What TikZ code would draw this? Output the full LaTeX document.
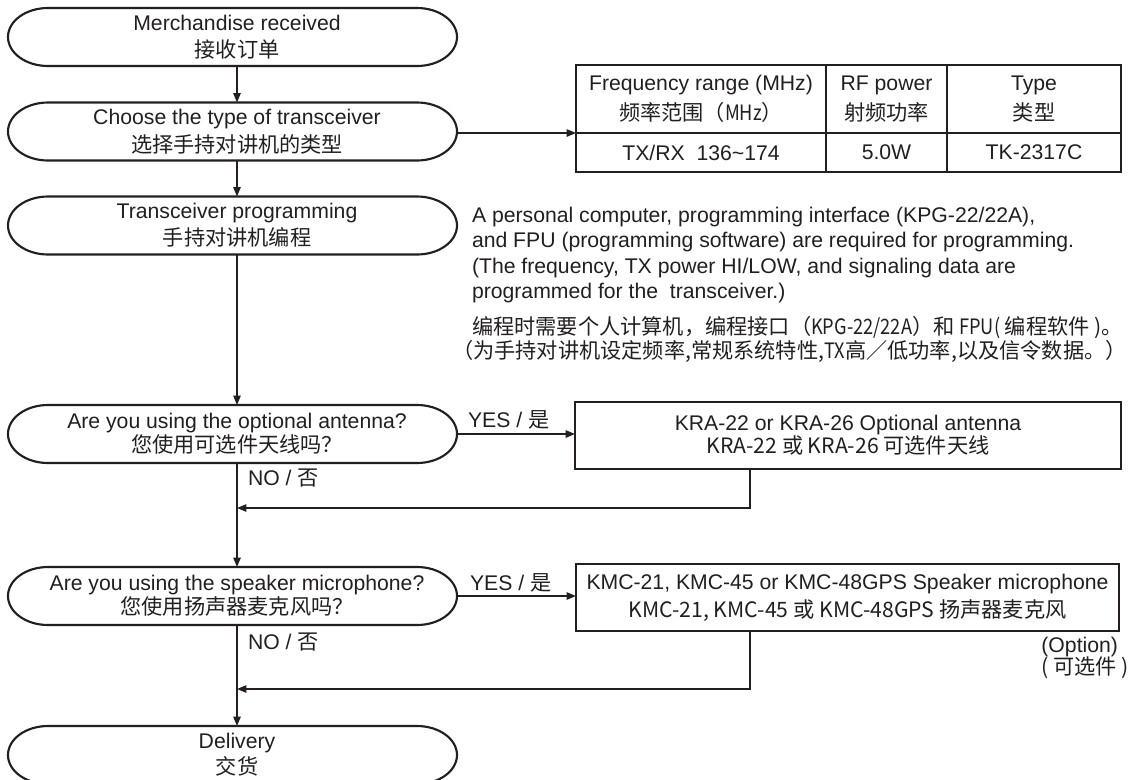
\documentclass[tikz,border=0pt]{standalone}
\usepackage{fontspec}
\setmainfont{Liberation Sans}
\newfontfamily\cjk{Noto Sans CJK SC}
\newfontfamily\cjkn[FakeStretch=0.86]{Noto Sans CJK SC}
\usetikzlibrary{arrows.meta,calc}
\definecolor{ink}{RGB}{35,31,32}
\newcommand\stadshape[1]{\draw[stadline] ($(#1.north west)+(31,0)$) -- ($(#1.north east)+(-40,0)$) arc[start angle=90,end angle=-90,x radius=30pt,y radius=21.75pt] -- ($(#1.south west)+(31,0)$) arc[start angle=270,end angle=90,x radius=30pt,y radius=21.75pt] -- cycle;}
\tikzset{
  every node/.style={text=ink, inner sep=0pt, outer sep=0pt},
  txt/.style={font=\fontsize{15.9pt}{#1}\selectfont},
  stad/.style={minimum width=330pt, minimum height=43.5pt, align=center, txt=#1},
  stadline/.style={draw=ink, line width=1.6pt},
  conn/.style={draw=ink, line width=1.1pt},
  arr/.style={conn, -{Triangle[length=7pt,width=5.5pt]}},
  boxnode/.style={draw=ink, line width=1.6pt, align=center, txt=#1},
  cell/.style={draw=ink, line width=1.2pt, align=center, txt=22.5pt},
}
\begin{document}
\begin{tikzpicture}[x=0.75pt,y=-0.75pt]
\useasboundingbox (0,0) rectangle (1131,779);
\clip (0,0) rectangle (1131,779);
\fill[white] (0,0) rectangle (1131,779);
% stadium nodes
\node[stad=20.25pt] (s1) at (237,37) {Merchandise received\\{\cjk 接收订单}};
\node[stad=21pt] (s2) at (237,131.5) {Choose the type of transceiver\\{\cjk 选择手持对讲机的类型}};
\node[stad=20.25pt] (s3) at (237,225.5) {Transceiver programming\\{\cjk 手持对讲机编程}};
\node[stad=15.75pt] (s4) at (237,434) {Are you using the optional antenna?\\{\cjk 您使用可选件天线吗？}};
\node[stad=16.5pt] (s5) at (237,596) {Are you using the speaker microphone?\\{\cjk 您使用扬声器麦克风吗？}};
\node[stad=19.5pt] (s6) at (237,755) {Delivery\\{\cjk 交货}};
\stadshape{s1}\stadshape{s2}\stadshape{s3}\stadshape{s4}\stadshape{s5}\stadshape{s6}
% table
\node[cell, minimum width=187.5pt, minimum height=51pt] (h1) at (701,99) {Frequency range (MHz)\\{\cjk 频率范围（{\cjkn MHz}）}};
\node[cell, minimum width=90.75pt, minimum height=51pt] (h2) at (886.5,99) {RF power\\{\cjk 射频功率}};
\node[cell, minimum width=130.5pt, minimum height=51pt] (h3) at (1034,99) {Type\\{\cjk 类型}};
\node[cell, minimum width=187.5pt, minimum height=29.25pt] (r1) at (701,152.5) {TX/RX\ \ 136\textasciitilde 174};
\node[cell, minimum width=90.75pt, minimum height=29.25pt] (r2) at (886.5,152.5) {5.0W};
\node[cell, minimum width=130.5pt, minimum height=29.25pt] (r3) at (1034,152.5) {TK-2317C};
% programming text
\node[txt=19pt, align=left, anchor=north west] (prog) at (472,207) {A personal computer, programming interface (KPG-22/22A),\\and FPU (programming software) are required for programming.\\(The frequency, TX power HI/LOW, and signaling data are\\programmed for the\ \ transceiver.)};
\node[txt=18pt, anchor=west] (cn1) at (472,327) {\cjk 编程时需要个人计算机，编程接口（{\cjkn KPG-22/22A}）和 {\cjkn FPU(}\ 编程软件\ )。};
\node[txt=18pt, anchor=west] (cn2) at (452,351) {\cjk （为手持对讲机设定频率,常规系统特性,{\cjkn TX}高／低功率,以及信令数据。）};
% options
\node[txt=19pt, anchor=west] (yes1) at (468,420) {YES / {\cjk 是}};
\node[txt=19pt, anchor=west] (no1) at (248,478) {NO / {\cjk 否}};
\node[boxnode=17.25pt, minimum width=409.5pt, minimum height=50.25pt] (kra) at (848,435.5) {KRA-22 or KRA-26 Optional antenna\\{\cjk KRA-22 或 KRA-26 可选件天线}};
\node[txt=19pt, anchor=west] (yes2) at (470,583) {YES / {\cjk 是}};
\node[txt=19pt, anchor=west] (no2) at (248,642) {NO / {\cjk 否}};
\node[boxnode=21pt, minimum width=407.25pt, minimum height=50.25pt] (kmc) at (847.5,597.5) {KMC-21, KMC-45 or KMC-48GPS Speaker microphone\\{\cjk KMC-21, KMC-45 或 KMC-48GPS 扬声器麦克风}};
\node[txt=19pt, anchor=east] (opt1) at (1118,647) {(Option)};
\node[txt=19pt, anchor=east] (opt2) at (1129,668) {\cjk ( 可选件 )};
% connectors
\coordinate (k1) at (750,508);
\coordinate (j1) at (237,508);
\coordinate (k2) at (750,689);
\coordinate (j2) at (237,689);
\draw[arr] (s1.south) -- (s2.north);
\draw[arr] (s2.south) -- (s3.north);
\draw[arr] (s3.south) -- (s4.north);
\draw[arr] (s4.south) -- (s5.north);
\draw[arr] (s5.south) -- (s6.north);
\draw[arr] (s2.east |- h1.south west) -- (h1.south west);
\draw[arr] (s4.east) -- (s4.east -| kra.west);
\draw[arr] (s5.east) -- (s5.east -| kmc.west);
\draw[arr] (kra.south -| k1) |- (j1);
\draw[arr] (kmc.south -| k2) |- (j2);
\end{tikzpicture}
\end{document}
